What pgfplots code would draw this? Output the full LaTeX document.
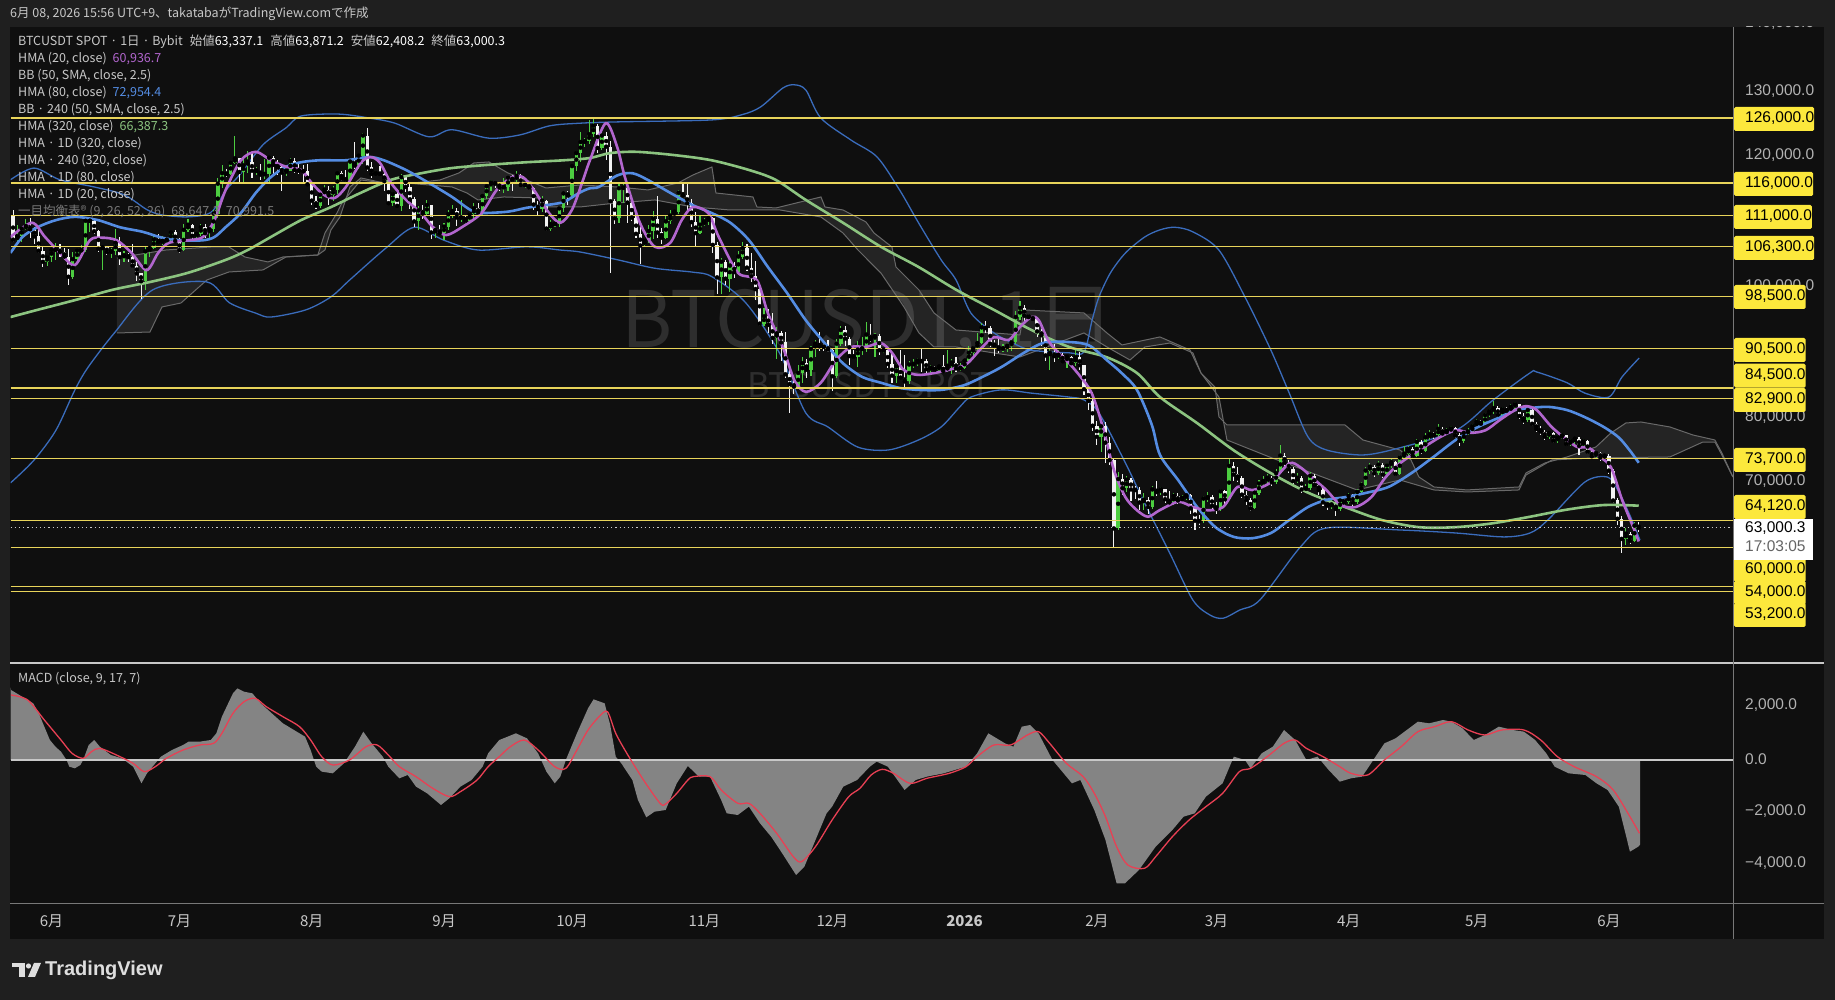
\documentclass[border=0pt]{standalone}
\usepackage{fontspec}
\setmainfont{Liberation Sans}
\newfontfamily\jp{Noto Sans CJK JP}
\usepackage{pgfplots}
\pgfplotsset{compat=1.18}
\usepackage{pgfplotstable}
\newcommand{\fs}[1]{\fontsize{#1}{#1}\selectfont}
\definecolor{outerbg}{RGB}{31,31,31}
\definecolor{panebg}{RGB}{15,15,15}
\definecolor{ylw}{RGB}{232,212,90}
\definecolor{ylwbox}{RGB}{252,232,60}
\definecolor{cgreen}{RGB}{76,205,64}
\definecolor{cwhite}{RGB}{242,242,242}
\definecolor{hmaA}{RGB}{178,102,206}
\definecolor{hmaB}{RGB}{84,140,226}
\definecolor{hmaC}{RGB}{140,196,128}
\definecolor{bbline}{RGB}{58,108,188}
\definecolor{cloudline}{RGB}{105,105,105}
\definecolor{txtgray}{RGB}{200,200,200}
\definecolor{axgray}{RGB}{178,178,178}
\definecolor{macdfill}{RGB}{132,132,132}
\definecolor{sigred}{RGB}{232,64,84}
\definecolor{wm}{RGB}{46,46,46}
\definecolor{sepline}{RGB}{200,200,200}
\definecolor{bordline}{RGB}{120,120,120}
\definecolor{logo}{RGB}{222,222,222}

% daily candles, price in thousand USDT, d = days since 2025-06-01
\pgfplotstableread{
d o h l c
-9 111.0 111.9 106.9 107.3
-8 107.3 109.5 106.7 107.8
-7 107.8 109.3 106.9 109.0
-6 109.0 110.4 108.8 109.4
-5 109.4 110.7 107.6 108.9
-4 108.9 109.3 106.6 107.8
-3 107.8 108.9 105.3 105.6
-2 105.6 106.3 103.1 103.9
-1 103.9 104.9 103.3 104.6
0 104.6 105.9 103.8 105.7
1 105.7 106.8 104.2 105.8
2 105.8 106.7 104.7 105.4
3 105.4 106.0 104.2 104.7
4 104.7 105.9 100.4 101.6
5 101.6 105.4 101.3 104.3
6 104.3 105.9 103.9 105.6
7 105.6 106.5 105.0 105.7
8 105.7 110.5 105.4 110.2
9 110.2 110.6 108.4 110.2
10 110.2 110.4 108.1 108.6
11 108.6 108.8 105.4 105.9
12 105.9 106.2 102.7 106.1
13 106.1 106.2 104.9 105.4
14 105.4 106.0 104.5 105.5
15 105.5 108.9 104.9 106.8
16 106.8 107.7 103.4 104.6
17 104.6 105.5 103.9 104.9
18 104.9 105.3 103.8 104.6
19 104.6 106.6 102.9 103.3
20 103.3 103.9 101.0 102.1
21 102.1 102.2 98.2 100.9
22 100.9 106.1 99.6 105.5
23 105.5 106.3 104.7 106.0
24 106.0 108.0 105.9 107.3
25 107.3 108.2 106.6 106.9
26 106.9 107.8 106.4 107.1
27 107.1 107.6 106.6 107.3
28 107.3 108.5 107.1 108.4
29 108.4 108.8 106.8 107.1
30 107.1 107.5 105.2 105.7
31 105.7 109.7 105.5 108.8
32 108.8 110.5 108.5 109.6
33 109.6 109.7 107.3 107.9
34 107.9 108.4 107.5 108.2
35 108.2 109.7 107.8 109.2
36 109.2 109.7 107.5 108.3
37 108.3 109.2 107.4 108.9
38 108.9 111.9 108.4 111.3
39 111.3 116.8 110.6 115.9
40 115.9 118.8 115.3 117.5
41 117.5 118.2 116.9 117.4
42 117.4 119.4 117.3 119.1
43 119.1 123.2 118.9 119.8
44 119.8 119.9 115.8 117.7
45 117.7 120.0 115.8 118.7
46 118.7 120.9 117.5 119.3
47 119.3 120.8 116.8 117.9
48 117.9 118.5 117.3 117.9
49 117.9 118.9 116.5 117.3
50 117.3 119.7 116.6 117.4
51 117.4 120.2 116.1 119.9
52 119.9 120.1 117.3 118.8
53 118.8 119.5 117.3 118.4
54 118.4 118.6 114.7 117.6
55 117.6 118.3 117.1 117.9
56 117.9 119.8 117.8 119.4
57 119.4 119.8 117.5 118.0
58 118.0 119.2 117.4 117.9
59 117.9 118.8 115.9 117.8
60 117.8 118.9 115.5 115.8
61 115.8 116.0 112.7 113.3
62 113.3 114.0 112.0 112.5
63 112.5 114.7 112.1 114.2
64 114.2 115.7 114.1 115.0
65 115.0 115.5 112.7 114.1
66 114.1 115.6 113.3 115.0
67 115.0 117.6 114.3 117.5
68 117.5 117.9 116.3 116.7
69 116.7 118.0 116.2 116.5
70 116.5 119.4 116.4 119.3
71 119.3 122.3 118.2 118.7
72 118.7 120.3 118.1 120.2
73 120.2 123.7 118.9 123.3
74 123.3 124.4 117.9 118.4
75 118.4 119.3 116.8 117.4
76 117.4 117.9 117.2 117.5
77 117.5 118.6 117.2 117.4
78 117.4 117.6 114.7 116.3
79 116.3 116.8 112.7 112.9
80 112.9 114.6 112.4 114.3
81 114.3 114.8 112.4 112.5
82 112.5 117.4 111.7 116.9
83 116.9 117.0 114.6 115.4
84 115.4 115.8 112.0 113.5
85 113.5 113.8 109.3 110.1
86 110.1 112.4 108.8 111.8
87 111.8 112.7 110.4 111.3
88 111.3 113.4 110.9 112.6
89 112.6 112.7 107.4 108.4
90 108.4 109.0 107.6 108.8
91 108.8 109.5 108.1 108.3
92 108.3 109.9 107.3 109.3
93 109.3 111.8 108.8 111.2
94 111.2 112.6 110.6 111.7
95 111.7 112.2 109.4 110.7
96 110.7 113.4 110.0 110.7
97 110.7 111.0 109.8 110.2
98 110.2 111.5 110.1 111.2
99 111.2 112.9 110.6 112.1
100 112.1 113.0 110.9 111.5
101 111.5 114.3 110.9 114.0
102 114.0 115.6 113.6 115.5
103 115.5 116.5 114.8 116.1
104 116.1 116.3 115.3 115.9
105 115.9 116.1 114.8 115.3
106 115.3 116.8 114.4 115.4
107 115.4 117.0 114.8 116.8
108 116.8 117.3 114.7 116.5
109 116.5 117.9 116.2 117.1
110 117.1 117.4 115.4 115.7
111 115.7 116.1 115.2 115.7
112 115.7 115.9 114.9 115.3
113 115.3 115.4 111.9 112.7
114 112.7 113.3 111.1 112.0
115 112.0 114.0 111.5 113.3
116 113.3 113.4 108.7 109.0
117 109.0 110.3 108.6 109.7
118 109.7 110.0 109.2 109.7
119 109.7 112.4 109.3 112.1
120 112.1 114.5 111.5 114.4
121 114.4 114.8 112.7 114.1
122 114.1 118.7 113.9 118.6
123 118.6 121.0 117.9 120.6
124 120.6 123.9 119.3 122.3
125 122.3 122.9 121.6 122.4
126 122.4 125.7 122.0 123.5
127 123.5 126.2 123.1 124.8
128 124.8 125.1 120.6 121.4
129 121.4 124.2 121.1 123.3
130 123.3 123.8 119.6 121.6
131 121.6 122.5 102.2 113.2
132 113.2 113.5 109.7 110.6
133 110.6 115.8 109.8 115.2
134 115.2 116.0 113.0 115.3
135 115.3 115.4 109.9 113.0
136 113.0 113.6 110.2 110.7
137 110.7 111.2 107.5 108.2
138 108.2 109.3 103.5 106.4
139 106.4 107.5 106.3 107.2
140 107.2 109.5 106.8 108.6
141 108.6 111.7 107.4 110.5
142 110.5 114.0 107.5 108.4
143 108.4 109.1 106.7 107.6
144 107.6 111.0 107.4 110.1
145 110.1 111.9 109.7 111.0
146 111.0 111.9 110.9 111.6
147 111.6 115.0 111.2 114.5
148 114.5 116.1 113.9 114.1
149 114.1 116.0 111.9 112.9
150 112.9 113.6 109.2 110.0
151 110.0 111.5 106.3 108.3
152 108.3 111.0 108.2 109.6
153 109.6 110.6 109.4 110.1
154 110.1 111.2 109.6 110.6
155 110.6 110.8 105.3 106.5
156 106.5 107.0 98.9 101.5
157 101.5 104.5 98.9 103.9
158 103.9 104.2 100.3 101.3
159 101.3 104.0 99.3 103.3
160 103.3 103.9 101.4 102.3
161 102.3 105.5 101.9 104.7
162 104.7 107.0 104.3 106.0
163 106.0 106.7 102.5 103.0
164 103.0 105.3 100.8 101.7
165 101.7 104.0 98.0 99.7
166 99.7 100.0 94.0 94.4
167 94.4 96.8 94.0 95.5
168 95.5 96.6 93.0 94.2
169 94.2 96.0 91.3 92.2
170 92.2 93.8 89.0 92.9
171 92.9 93.2 88.6 91.5
172 91.5 93.1 86.1 86.6
173 86.6 87.5 80.6 85.1
174 85.1 85.5 83.5 84.7
175 84.7 88.0 84.6 86.8
176 86.8 89.2 85.3 88.3
177 88.3 88.9 86.1 87.3
178 87.3 91.0 86.3 90.5
179 90.5 91.9 89.2 91.3
180 91.3 93.1 90.2 90.9
181 90.9 91.2 90.2 90.8
182 90.8 91.8 90.1 90.4
183 90.4 90.5 84.0 86.3
184 86.3 92.0 86.0 91.3
185 91.3 94.1 91.0 93.4
186 93.4 94.0 90.9 92.1
187 92.1 92.3 88.1 89.4
188 89.4 90.3 88.9 89.3
189 89.3 91.7 87.7 90.4
190 90.4 92.3 89.6 90.6
191 90.6 94.6 90.0 92.7
192 92.7 94.4 91.6 92.0
193 92.0 93.0 89.3 92.5
194 92.5 92.8 89.5 90.3
195 90.3 90.7 89.8 90.3
196 90.3 90.4 87.6 88.2
197 88.2 90.0 85.2 86.4
198 86.4 88.2 85.3 87.8
199 87.8 90.4 85.9 86.1
200 86.1 89.5 84.5 85.5
201 85.5 88.6 85.1 88.1
202 88.1 89.0 87.6 88.2
203 88.2 89.1 87.9 88.7
204 88.7 90.5 87.0 88.6
205 88.6 88.9 86.6 87.4
206 87.4 88.0 86.6 87.6
207 87.6 87.9 86.9 87.3
208 87.3 88.1 87.0 87.8
209 87.8 89.5 86.8 87.1
210 87.1 90.3 86.9 87.9
211 87.9 88.9 86.6 88.4
212 88.4 89.2 87.0 87.5
213 87.5 88.4 87.1 87.6
214 87.6 88.9 87.4 88.7
215 88.7 90.9 88.5 89.9
216 89.9 90.9 89.3 90.6
217 90.6 93.0 90.4 91.4
218 91.4 94.5 91.2 93.8
219 93.8 94.8 92.9 93.7
220 93.7 94.0 90.8 91.3
221 91.3 91.9 89.4 91.0
222 91.0 92.0 89.9 90.5
223 90.5 91.2 90.1 90.6
224 90.6 91.4 90.1 91.0
225 91.0 92.5 90.2 91.5
226 91.5 96.3 91.2 95.4
227 95.4 97.8 94.9 96.8
228 96.8 97.2 94.5 95.6
229 95.6 95.9 94.9 95.4
230 95.4 95.6 94.8 95.1
231 95.1 95.2 92.3 93.2
232 93.2 93.6 91.0 92.6
233 92.6 92.7 88.7 89.5
234 89.5 90.5 87.3 89.9
235 89.9 91.2 88.5 89.4
236 89.4 90.3 89.0 89.6
237 89.6 89.9 88.3 88.6
238 88.6 89.5 87.6 89.3
239 89.3 89.4 87.9 88.3
240 88.3 90.4 87.9 89.2
241 89.2 90.0 87.3 88.0
242 88.0 88.1 83.4 84.3
243 84.3 84.6 81.1 82.5
244 82.5 83.9 77.9 78.7
245 78.7 79.4 75.7 77.0
246 77.0 79.3 74.6 78.6
247 78.6 79.3 72.9 76.1
248 76.1 76.9 72.7 73.4
249 73.4 73.6 60.0 62.9
250 62.9 71.6 62.7 70.5
251 70.5 71.2 68.0 69.1
252 69.1 71.0 68.5 70.4
253 70.4 70.6 67.1 68.9
254 68.9 69.5 67.4 68.8
255 68.8 69.3 65.8 66.9
256 66.9 68.4 65.7 67.3
257 67.3 67.8 65.2 66.2
258 66.2 69.4 65.9 68.9
259 68.9 70.2 67.9 68.5
260 68.5 69.3 68.0 68.9
261 68.9 69.0 66.8 67.4
262 67.4 68.7 66.4 66.9
263 66.9 68.4 66.5 67.9
264 67.9 68.3 66.7 67.2
265 67.2 68.1 66.9 67.6
266 67.6 68.6 67.2 68.0
267 68.0 68.2 65.1 66.0
268 66.0 66.3 62.7 64.1
269 64.1 65.0 63.5 64.0
270 64.0 67.9 63.8 67.5
271 67.5 68.5 66.9 67.7
272 67.7 68.0 65.9 66.4
273 66.4 67.0 65.2 65.9
274 65.9 69.0 65.6 68.6
275 68.6 68.8 66.5 67.4
276 67.4 73.8 67.2 72.5
277 72.5 73.1 70.2 71.2
278 71.2 72.3 70.0 70.6
279 70.6 70.9 67.6 68.1
280 68.1 68.6 66.5 67.3
281 67.3 67.6 65.6 66.0
282 66.0 68.8 65.9 68.4
283 68.4 70.4 68.1 69.8
284 69.8 70.9 69.4 70.2
285 70.2 71.3 69.8 70.7
286 70.7 71.0 69.5 70.0
287 70.0 72.1 69.8 71.4
288 71.4 75.8 71.3 74.1
289 74.1 74.5 72.3 73.0
290 73.0 73.4 71.5 72.0
291 72.0 72.3 69.8 70.2
292 70.2 71.4 69.9 70.7
293 70.7 71.0 68.4 68.9
294 68.9 69.8 68.5 69.1
295 69.1 71.6 68.8 71.0
296 71.0 71.3 69.2 69.6
297 69.6 70.0 68.1 68.8
298 68.8 69.1 66.4 66.9
299 66.9 67.5 65.7 66.4
300 66.4 67.2 65.9 66.6
301 66.6 66.9 64.8 65.9
302 65.9 67.6 65.6 67.2
303 67.2 67.5 66.4 66.9
304 66.9 68.3 66.6 67.9
305 67.9 68.2 66.4 66.9
306 66.9 68.9 66.7 68.5
307 68.5 70.1 68.2 69.6
308 69.6 72.3 69.4 71.8
309 71.8 72.9 71.2 72.4
310 72.4 72.7 70.8 71.4
311 71.4 73.2 71.1 72.7
312 72.7 72.9 70.6 71.2
313 71.2 73.0 70.9 72.6
314 72.6 73.6 72.2 73.1
315 73.1 73.3 70.9 71.3
316 71.3 74.2 71.1 73.8
317 73.8 75.6 73.5 74.4
318 74.4 75.5 74.0 75.1
319 75.1 75.4 73.6 74.1
320 74.1 76.7 73.9 76.2
321 76.2 76.5 74.3 74.8
322 74.8 77.5 74.6 76.9
323 76.9 78.1 76.5 77.4
324 77.4 77.8 76.7 77.2
325 77.2 78.9 76.9 78.2
326 78.2 78.5 77.0 77.5
327 77.5 78.3 77.2 77.9
328 77.9 78.7 77.6 78.3
329 78.3 78.5 76.8 77.2
330 77.2 77.5 75.6 76.4
331 76.4 78.0 76.1 77.6
332 77.6 78.3 77.3 77.8
333 77.8 79.0 77.5 78.6
334 78.6 79.8 78.3 79.3
335 79.3 79.6 78.5 79.0
336 79.0 80.7 78.8 80.3
337 80.3 81.3 80.0 80.9
338 80.9 82.5 80.5 81.4
339 81.4 81.7 80.0 80.4
340 80.4 81.6 80.1 81.2
341 81.2 81.5 80.6 81.0
342 81.0 82.0 80.8 81.6
343 81.6 82.4 81.3 82.0
344 82.0 82.1 79.8 80.2
345 80.2 80.6 79.0 79.5
346 79.5 81.4 79.3 81.1
347 81.1 81.2 78.6 79.0
348 79.0 79.3 77.8 78.2
349 78.2 78.6 77.3 77.8
350 77.8 78.0 76.5 77.0
351 77.0 77.9 76.6 77.6
352 77.6 77.8 76.0 76.4
353 76.4 77.3 76.1 76.9
354 76.9 77.6 76.6 77.2
355 77.2 77.3 75.5 75.9
356 75.9 76.6 75.6 76.3
357 76.3 77.0 75.9 76.7
358 76.7 76.9 74.2 75.6
359 75.6 76.7 75.3 76.3
360 76.3 76.5 74.3 74.7
361 74.7 75.1 73.6 74.0
362 74.0 74.8 73.7 74.5
363 74.5 74.7 73.3 73.8
364 73.8 74.4 73.4 74.1
365 74.1 74.3 71.2 71.8
366 71.8 72.0 66.8 67.2
367 67.2 67.6 63.5 64.4
368 64.4 64.8 59.1 61.3
369 61.3 62.9 60.4 62.1
370 62.1 62.4 60.5 61.0
371 61.0 63.9 60.8 63.3371
372 63.3371 63.8712 62.4082 63.0003
}\candles

\pgfplotstableread{
d p
-9.6 107.7
-4.6 109.9
-1.5 107.7
2.0 105.25
5.5 103.4
9.0 107.2
11.7 107.6
15.3 107.2
18.8 105.25
22.3 102.6
25.0 105.25
27.5 106.8
32.0 107.2
35.5 107.7
38.2 110.3
40.8 114.9
44.4 119.5
47.9 120.8
51.4 119.5
55.0 118.5
58.5 118.0
61.0 116.0
63.8 114.2
66.4 113.7
69.0 115.4
72.5 119.1
74.8 120.0
77.0 119.1
79.6 116.0
83.1 113.4
86.6 111.4
89.3 109.3
92.5 108.0
96.4 109.3
100.8 111.4
104.3 114.9
107.9 116.9
110.5 116.9
113.1 114.9
116.6 111.4
119.3 109.9
122.0 111.9
124.6 116.5
126.2 119.5
129.9 125.2
132.6 121.5
134.4 116.9
137.9 109.9
141.4 106.2
145.0 106.8
147.7 110.3
150.3 112.3
153.9 111.4
156.4 107.7
160.9 102.2
165.3 101.1
167.9 96.0
171.4 90.8
174.1 85.7
176.8 83.9
180.3 85.3
183.9 88.8
187.4 90.8
190.9 90.8
194.4 91.4
197.0 89.9
199.7 87.3
203.2 86.5
208.5 87.0
212.0 87.6
214.7 88.3
218.2 90.8
220.9 92.3
224.4 91.9
227.0 93.9
229.7 95.4
231.4 94.9
234.0 91.4
238.5 88.3
241.2 86.2
243.8 83.7
246.4 78.5
249.0 71.9
251.7 67.7
254.4 65.7
257.0 64.7
259.7 65.7
264.1 67.0
267.5 66.2
271.0 65.7
274.6 66.2
278.0 69.3
281.5 68.8
285.8 70.0
290.1 72.9
292.7 72.3
296.2 70.3
298.8 68.8
302.2 66.5
305.7 66.2
309.3 67.7
312.7 70.8
316.0 72.9
320.5 74.9
325.6 77.0
329.2 78.0
332.6 77.6
336.1 78.0
339.5 79.6
343.0 81.1
345.6 81.7
348.1 81.1
351.6 78.5
355.2 76.5
357.7 75.4
360.3 75.3
362.9 73.9
365.5 72.3
368.1 67.3
370.7 63.1
372.0 60.9
}\hmaTwenty

\pgfplotstableread{
d p
-9.6 105.25
-6.8 107.7
-3.3 109.2
1.05 110.3
5.5 110.8
10.9 110.3
16.1 109.2
21.4 108.5
25.9 107.6
30.3 107.2
35.5 107.2
38.2 107.7
40.8 109.2
44.4 111.4
47.9 114.5
51.4 116.9
55.0 118.5
58.5 119.2
62.9 119.5
69.0 119.5
74.4 120.0
77.9 119.5
83.1 118.0
88.5 116.0
93.8 113.9
98.1 111.9
100.8 111.4
107.0 111.6
111.4 112.2
115.9 112.6
120.1 113.1
123.7 114.5
126.2 115.2
128.3 115.4
132.7 117.2
136.2 117.5
139.7 116.5
145.0 114.5
150.3 112.6
154.7 111.4
159.1 109.9
163.5 107.2
167.9 103.1
172.4 99.1
176.8 94.9
181.2 91.4
185.5 88.3
190.0 86.2
194.4 85.3
198.8 84.5
203.2 84.2
208.5 84.2
213.8 84.9
218.2 86.2
222.6 87.7
227.9 89.9
232.3 91.4
236.7 91.6
241.2 91.4
243.8 90.8
247.3 88.8
250.8 86.8
254.4 84.2
257.9 78.8
259.8 74.2
264.1 70.3
268.5 66.2
272.8 63.1
277.1 61.6
281.5 61.4
285.8 62.2
290.1 64.2
294.5 66.2
298.8 67.3
303.1 67.7
308.3 68.4
313.4 69.3
318.7 71.4
323.9 73.9
329.1 76.5
334.3 78.5
339.5 80.0
343.0 81.1
346.5 81.4
350.7 81.6
355.2 81.1
359.4 80.0
363.8 78.5
367.3 76.9
369.9 74.9
372.0 73.0
}\hmaEighty

\pgfplotstableread{
d p
-9.6 95.4
-3.3 96.5
5.5 98.0
14.4 99.6
23.2 100.8
32.0 102.2
40.9 104.2
46.0 105.7
51.4 107.7
58.5 110.3
65.5 112.3
72.5 114.5
79.6 116.5
86.6 117.5
93.8 118.3
102.5 118.8
111.4 119.2
120.1 119.5
126.2 119.85
130.9 120.6
137.0 120.8
145.9 120.3
154.7 119.5
163.5 118.0
169.7 116.5
176.8 113.4
185.5 109.9
194.4 106.2
203.2 103.1
212.0 99.6
220.9 96.5
229.7 93.4
238.5 90.8
247.4 89.2
254.4 86.8
259.8 83.1
268.5 79.1
277.1 74.9
285.8 71.4
294.5 68.4
303.1 66.2
311.8 64.2
320.5 63.1
329.1 63.1
337.8 63.7
346.5 64.7
355.2 65.8
363.8 66.5
372.0 66.4
}\hmaThree

\pgfplotstableread{
d p
-9.6 116.5
-4.1 118.3
2.0 116.5
10.0 115.4
17.0 114.2
22.4 111.9
25.9 111.1
32.0 110.8
37.4 111.5
40.9 114.9
44.4 117.5
49.6 121.9
55.0 124.5
58.5 126.3
67.3 126.6
74.4 126.0
80.5 125.2
88.5 123.1
93.8 124.2
102.5 122.9
109.8 123.4
116.8 124.8
123.9 125.2
132.7 125.4
154.7 125.7
161.8 126.5
166.2 127.7
171.4 130.6
174.1 131.1
176.8 130.3
180.3 126.0
187.4 122.6
193.5 120.0
198.8 114.9
203.2 109.9
208.5 104.2
212.0 101.1
215.5 96.0
220.9 92.95
225.3 91.4
229.7 90.3
238.5 89.9
242.0 90.03
243.9 94.95
245.5 98.5
248.2 102.2
251.7 105.25
256.2 107.7
259.8 108.8
263.3 109.2
267.5 108.5
273.6 105.7
279.7 98.5
285.8 90.3
290.1 83.7
294.5 76.96
298.8 74.97
307.4 74.2
316.0 75.3
329.2 78.0
337.8 82.6
346.5 86.8
348.1 86.95
355.2 85.3
359.4 83.7
365.0 83.1
368.1 86.2
372.1 89.1
}\bbUp

\pgfplotstableread{
d p
-9.6 69.9
-4.1 73.4
1.05 78.0
5.5 84.2
8.6 87.7
14.8 93.0
23.8 99.6
36.4 100.8
41.7 97.6
47.9 96.0
51.4 95.4
59.6 96.5
65.5 98.5
69.9 101.1
78.2 105.9
85.0 109.2
92.0 107.2
100.0 105.7
111.4 106.2
119.2 105.7
123.9 105.4
132.7 104.2
141.4 102.9
150.3 102.3
154.8 101.6
162.7 97.6
170.6 89.9
176.8 80.65
182.0 78.5
189.0 75.4
196.2 74.97
203.2 76.5
208.5 78.5
212.9 81.6
215.5 83.1
222.5 84.2
229.7 83.7
238.5 83.1
242.0 82.65
245.5 80.65
251.7 72.97
256.2 66.8
262.1 59.1
267.5 51.9
271.5 49.6
274.6 49.1
278.5 50.37
283.2 51.9
292.7 60.05
298.8 62.97
316.0 62.67
329.2 62.2
340.4 61.6
346.5 62.2
350.7 64.2
359.4 70.05
364.7 70.8
367.1 68.8
369.9 64.97
372.3 61.1
}\bbLow

\pgfplotstableread{
d p
15.35 104.48
26.83 105.71
37.38 106.17
41.60 106.17
45.35 104.63
50.74 103.87
54.25 104.63
62.43 104.94
64.10 108.33
66.91 111.40
68.08 112.94
72.53 116.47
77.93 116.01
84.95 116.01
91.05 116.47
95.50 117.55
99.02 119.09
102.53 119.24
106.98 117.55
113.08 116.01
115.89 115.24
123.86 115.70
132.53 115.40
139.80 114.94
146.83 116.01
150.34 117.24
154.79 118.47
155.73 114.47
164.40 113.86
165.34 112.32
169.80 112.17
180.34 113.86
181.28 112.32
185.50 111.86
190.89 110.02
192.76 108.33
196.98 106.17
197.92 103.10
203.31 99.56
206.83 96.03
211.98 93.41
220.89 92.95
226.98 92.65
227.92 96.49
241.98 96.03
247.37 92.95
250.89 91.11
259.79 92.34
266.82 90.34
269.40 86.80
272.68 84.64
273.62 80.04
275.49 78.81
303.15 78.81
307.37 76.50
316.04 74.96
318.62 73.43
320.49 70.81
324.01 69.28
331.74 68.82
343.93 69.28
345.57 71.43
350.02 72.97
355.18 73.89
361.97 75.43
365.48 77.58
369.00 79.12
372.51 79.27
379.31 78.50
384.70 77.27
389.85 76.50
391.49 74.50
394.07 70.81
}\cloudTop

\pgfplotstableread{
d p
15.35 92.95
23.08 93.10
25.90 96.95
30.35 97.56
36.44 101.10
41.60 102.33
49.57 102.64
54.96 104.63
62.43 104.94
64.10 105.71
65.50 108.79
67.61 110.78
69.96 115.40
72.53 116.78
77.93 116.01
83.08 116.01
88.47 115.70
93.86 115.40
97.37 114.47
99.95 113.40
106.05 113.86
114.02 113.70
115.89 112.32
123.86 112.32
132.53 112.94
141.44 113.40
150.34 112.32
159.01 111.86
170.73 111.86
180.34 110.78
185.50 108.33
189.01 105.71
194.40 102.17
199.80 96.95
203.31 92.95
206.83 90.80
211.98 90.80
220.89 89.88
226.98 89.26
241.98 92.95
247.37 90.80
252.76 88.80
256.28 90.80
262.13 91.41
267.52 89.88
269.40 86.80
273.62 83.11
275.49 76.50
286.04 73.74
305.96 68.82
316.04 70.35
324.01 68.82
331.74 68.51
343.93 68.82
345.57 71.12
351.66 73.43
361.27 73.74
379.31 73.89
387.04 76.19
389.85 76.19
391.49 74.20
394.07 70.81
}\cloudBot

% cloud outline: top edge forward, bottom edge back
\pgfplotstableread{
d p
15.35 104.48
26.83 105.71
37.38 106.17
41.60 106.17
45.35 104.63
50.74 103.87
54.25 104.63
62.43 104.94
64.10 108.33
66.91 111.40
68.08 112.94
72.53 116.47
77.93 116.01
84.95 116.01
91.05 116.47
95.50 117.55
99.02 119.09
102.53 119.24
106.98 117.55
113.08 116.01
115.89 115.24
123.86 115.70
132.53 115.40
139.80 114.94
146.83 116.01
150.34 117.24
154.79 118.47
155.73 114.47
164.40 113.86
165.34 112.32
169.80 112.17
180.34 113.86
181.28 112.32
185.50 111.86
190.89 110.02
192.76 108.33
196.98 106.17
197.92 103.10
203.31 99.56
206.83 96.03
211.98 93.41
220.89 92.95
226.98 92.65
227.92 96.49
241.98 96.03
247.37 92.95
250.89 91.11
259.79 92.34
266.82 90.34
269.40 86.80
272.68 84.64
273.62 80.04
275.49 78.81
303.15 78.81
307.37 76.50
316.04 74.96
318.62 73.43
320.49 70.81
324.01 69.28
331.74 68.82
343.93 69.28
345.57 71.43
350.02 72.97
355.18 73.89
361.97 75.43
365.48 77.58
369.00 79.12
372.51 79.27
379.31 78.50
384.70 77.27
389.85 76.50
391.49 74.50
394.07 70.81
391.49 74.20
389.85 76.19
387.04 76.19
379.31 73.89
361.27 73.74
351.66 73.43
345.57 71.12
343.93 68.82
331.74 68.51
324.01 68.82
316.04 70.35
305.96 68.82
286.04 73.74
275.49 76.50
273.62 83.11
269.40 86.80
267.52 89.88
262.13 91.41
256.28 90.80
252.76 88.80
247.37 90.80
241.98 92.95
226.98 89.26
220.89 89.88
211.98 90.80
206.83 90.80
203.31 92.95
199.80 96.95
194.40 102.17
189.01 105.71
185.50 108.33
180.34 110.78
170.73 111.86
159.01 111.86
150.34 112.32
141.44 113.40
132.53 112.94
123.86 112.32
115.89 112.32
114.02 113.70
106.05 113.86
99.95 113.40
97.37 114.47
93.86 115.40
88.47 115.70
83.08 116.01
77.93 116.01
72.53 116.78
69.96 115.40
67.61 110.78
65.50 108.79
64.10 105.71
62.43 104.94
54.96 104.63
49.57 102.64
41.60 102.33
36.44 101.10
30.35 97.56
25.90 96.95
23.08 93.10
15.35 92.95
15.35 104.48
}\cloudPoly

\pgfplotstableread{
d v
-9.6 0
-9.6 2750
-9.47 2646
-6.87 2394
-4.27 2142
-2.97 1764
-1.67 1260
-0.37 756
0.93 504
2.23 315
3.53 0
4.18 -252
5.48 -315
6.78 -189
7.43 0
8.73 567
10.03 756
11.33 504
13.93 189
16.53 63
19.13 -252
21.09 -882
22.39 -504
24.34 -126
25.64 126
28.24 378
30.84 567
32.14 693
34.74 693
37.34 756
38.64 1008
39.94 1638
42.53 2520
43.58 2709
45.14 2583
47.09 2520
49.04 2142
51.64 1764
54.24 1386
56.84 1134
59.44 882
60.74 378
62.04 -252
63.34 -441
65.94 -504
68.54 -126
71.14 504
73.09 1071
75.04 630
77.64 126
78.94 -252
81.54 -693
83.49 -567
85.44 -1008
88.04 -1260
91.29 -1701
93.25 -1449
95.85 -1008
98.45 -756
101.05 -252
102.35 252
104.95 756
108.85 1008
111.45 819
114.05 252
116.0 -441
117.95 -882
119.25 -630
120.55 0
123.15 1008
125.75 1953
127.05 2293
129.65 2142
130.95 1323
132.25 126
133.55 -126
136.15 -756
137.45 -1512
139.40 -2167
141.35 -1953
143.95 -1890
146.55 -882
149.15 -227
151.75 -630
154.35 -630
156.95 -1512
158.25 -2016
160.86 -2079
163.46 -1764
166.06 -2394
168.66 -2898
171.26 -3528
174.51 -4347
176.46 -4032
179.06 -3024
181.66 -2016
182.96 -1764
185.56 -1008
188.81 -756
191.80 -252
193.40 -63
196.02 -252
199.94 -1134
202.56 -756
205.17 -630
209.1 -504
214.33 -252
216.94 252
219.56 1008
223.48 630
225.44 504
227.4 1260
229.36 1323
231.33 1008
234.6 0
236.56 -378
239.17 -882
241.14 -756
244.40 -1890
247.02 -3024
249.63 -4662
251.6 -4662
254.87 -4158
258.79 -3276
262.71 -2646
265.33 -2142
267.94 -2016
270.56 -1386
274.48 -882
277.10 126
279.71 0
281.02 -315
283.63 252
286.25 504
288.87 1134
291.48 756
294.10 0
296.71 126
299.33 -378
301.94 -819
304.56 -693
307.17 -630
309.79 0
312.40 630
315.02 819
317.63 1134
320.25 1449
322.87 1386
326.13 1512
328.10 1449
330.71 1197
333.33 756
335.94 945
339.21 1260
342.48 1134
345.10 1071
347.71 756
350.33 252
352.29 -252
355.56 -504
359.48 -567
362.10 -882
364.71 -1134
367.33 -1764
369.94 -3465
371.90 -3276
372.3 -3200
372.3 0
-9.6 0
}\macd

\pgfplotstableread{
d v
-9.47 2457
-5.57 2268
-1.67 1512
2.23 756
4.83 252
7.43 63
9.38 315
11.33 441
15.23 189
19.13 -126
21.73 -441
24.34 -252
26.94 63
30.84 378
34.74 567
37.99 630
39.94 1008
42.53 1764
45.14 2205
47.74 2331
50.34 2016
54.24 1638
58.14 1260
60.74 756
63.34 126
65.94 -189
69.84 0
73.74 504
76.34 567
78.94 189
81.54 -252
85.44 -630
89.35 -1071
93.25 -1386
95.85 -1197
99.75 -756
102.35 -252
104.95 126
107.55 504
110.80 756
114.05 378
117.95 -252
120.55 -315
123.15 378
125.75 1134
128.35 1638
130.30 1827
132.25 1008
134.85 252
138.75 -756
142.65 -1638
143.95 -1663
146.55 -1260
149.15 -756
150.45 -630
154.35 -630
156.95 -1134
160.86 -1638
163.46 -1638
166.06 -2016
169.96 -2772
173.86 -3654
175.81 -3843
179.06 -3276
182.96 -2268
186.86 -1386
189.48 -1071
192.10 -567
194.71 -353
197.33 -504
201.25 -882
205.17 -693
210.40 -504
214.33 -252
216.94 126
220.86 567
224.79 567
228.71 945
231.33 1071
233.94 630
237.86 -126
241.79 -630
244.40 -1260
247.02 -2142
249.63 -3276
252.25 -3969
256.17 -4095
258.79 -3654
262.71 -2898
266.64 -2268
270.56 -1764
274.48 -1260
278.40 -441
281.02 -315
284.94 126
288.87 630
291.48 756
294.10 441
298.02 126
301.94 -252
304.56 -504
308.48 -567
312.40 0
316.33 504
320.25 1071
324.17 1260
328.10 1449
332.02 1134
335.94 945
339.86 1134
345.10 1134
349.02 756
352.94 126
356.87 -252
362.10 -630
366.02 -1134
369.94 -2142
372.17 -2772
}\signal

\pgfplotsset{invis/.style={axis line style={draw=none}, ticks=none, clip=true,
  xmin=-9.6, xmax=394.1, width=1722.5pt, scale only axis, anchor=south west}}

\begin{document}
\begin{tikzpicture}
\begin{scope}[x=1pt,y=1pt]
\fill[outerbg] (0,0) rectangle (1835,1000);
\fill[panebg] (10,61) rectangle (1824,973);
% watermark
\node[anchor=base, text=wm, font=\jp\fs{78}] at (868,652) {BTCUSDT, 1日};
\node[anchor=base, text=wm, font=\jp\fs{34}] at (869,602) {BTCUSDT SPOT};
\end{scope}

% ---------------- main price pane ----------------
\begin{axis}[invis, at={(10.5pt,337pt)}, height=636pt, ymin=42.22, ymax=139.99]
% Ichimoku cloud
\addplot[fill=white, fill opacity=0.09, draw=none] table[x=d,y=p] {\cloudPoly};
\addplot[cloudline, line width=1pt] table[x=d,y=p] {\cloudTop};
\addplot[cloudline, line width=1pt] table[x=d,y=p] {\cloudBot};
% Bollinger bands
\addplot[bbline, line width=1.3pt, smooth] table[x=d,y=p] {\bbUp};
\addplot[bbline, line width=1.3pt, smooth] table[x=d,y=p] {\bbLow};
% candles: wicks
\addplot[only marks, mark=none, error bars/.cd, y dir=both, y explicit, error mark=none,
  error bar style={line width=1.1pt, draw=cgreen}]
  table[x=d, y expr={\thisrow{c}<\thisrow{o} ? nan : \thisrow{c}},
        y error plus expr=\thisrow{h}-\thisrow{c}, y error minus expr=\thisrow{c}-\thisrow{l}] {\candles};
\addplot[only marks, mark=none, error bars/.cd, y dir=both, y explicit, error mark=none,
  error bar style={line width=1.1pt, draw=cwhite}]
  table[x=d, y expr={\thisrow{c}<\thisrow{o} ? \thisrow{c} : nan},
        y error plus expr=\thisrow{h}-\thisrow{c}, y error minus expr=\thisrow{c}-\thisrow{l}] {\candles};
% candles: bodies
\addplot[only marks, mark=none, error bars/.cd, y dir=both, y explicit, error mark=none,
  error bar style={line width=3.4pt, draw=cgreen}]
  table[x=d, y expr={\thisrow{c}<\thisrow{o} ? nan : (\thisrow{o}+\thisrow{c})/2},
        y error expr={max((\thisrow{c}-\thisrow{o})/2,0.08)}] {\candles};
\addplot[only marks, mark=none, error bars/.cd, y dir=both, y explicit, error mark=none,
  error bar style={line width=3.4pt, draw=cwhite}]
  table[x=d, y expr={\thisrow{c}<\thisrow{o} ? (\thisrow{o}+\thisrow{c})/2 : nan},
        y error expr={max((\thisrow{o}-\thisrow{c})/2,0.08)}] {\candles};
% HMAs
\addplot[hmaC, line width=2.6pt, smooth] table[x=d,y=p] {\hmaThree};
\addplot[hmaB, line width=2.6pt, smooth] table[x=d,y=p] {\hmaEighty};
\addplot[hmaA, line width=2.6pt, smooth] table[x=d,y=p] {\hmaTwenty};
% horizontal levels
\pgfplotsinvokeforeach{126,116,111,106.3,98.5,90.5,84.5,82.9,73.7,64.12,60,54,53.2}{
  \addplot[ylw, line width=1.1pt] coordinates {(-9.6,#1) (394.1,#1)};
}
\addplot[txtgray, line width=1pt, dash pattern=on 1.2pt off 3pt] coordinates {(-9.6,63.0003) (394.1,63.0003)};
\end{axis}

% ---------------- MACD pane ----------------
\begin{axis}[invis, at={(10.5pt,96pt)}, height=241pt, ymin=-5444, ymax=3667]
\addplot[fill=macdfill, draw=none] table[x=d,y=v] {\macd};
\addplot[color=sepline, line width=1.2pt] coordinates {(-9.6,0) (394.1,0)};
\addplot[sigred, line width=1.3pt, smooth] table[x=d,y=v] {\signal};
\end{axis}

\begin{scope}[x=1pt,y=1pt]
% separators
\draw[sepline, line width=1.4pt] (10,337) -- (1824,337);
\draw[bordline, line width=1pt] (10,96) -- (1824,96);
\draw[bordline, line width=1pt] (1733,61) -- (1733,973);

% price axis labels
\begin{scope}
\clip (1734,61) rectangle (1824,973);
\tikzset{gl/.style={anchor=west, text=axgray, font=\fs{15.5}, inner sep=0pt, text height=0.72em, text depth=0pt}}
\node[gl] at (1745,976) {140,000.0};
\node[gl] at (1745,908) {130,000.0};
\node[gl] at (1745,844) {120,000.0};
\node[gl] at (1745,713) {100,000.0};
\node[gl] at (1745,582.3) {80,000.0};
\node[gl] at (1745,517.7) {70,000.0};
\tikzset{yl/.style={anchor=west, fill=ylwbox, rounded corners=1.5pt, minimum height=24pt, inner sep=0pt, text=black, font=\fs{15.5}, text height=0.72em, text depth=0pt}}
\node[yl] at (1734,881) {\hspace{11pt}126,000.0\hspace{6pt}};
\node[yl] at (1734,816) {\hspace{11pt}116,000.0\hspace{6pt}};
\node[yl] at (1734,783) {\hspace{11pt}111,000.0\hspace{6pt}};
\node[yl] at (1734,752) {\hspace{11pt}106,300.0\hspace{6pt}};
\node[yl] at (1734,703) {\hspace{11pt}98,500.0\hspace{6pt}};
\node[yl] at (1734,650) {\hspace{11pt}90,500.0\hspace{6pt}};
\node[yl] at (1734,624.3) {\hspace{11pt}84,500.0\hspace{6pt}};
\node[yl] at (1734,600) {\hspace{11pt}82,900.0\hspace{6pt}};
\node[yl] at (1734,540) {\hspace{11pt}73,700.0\hspace{6pt}};
\node[yl] at (1734,493) {\hspace{11pt}64,120.0\hspace{6pt}};
\node[yl] at (1734,430) {\hspace{11pt}60,000.0\hspace{6pt}};
\node[yl] at (1734,407.3) {\hspace{11pt}54,000.0\hspace{6pt}};
\node[yl] at (1734,385) {\hspace{11pt}53,200.0\hspace{6pt}};
\fill[white] (1734,440) rectangle (1813,481);
\node[anchor=west, text=black, font=\fs{15.5}, inner sep=0pt, text height=0.72em, text depth=0pt] at (1745,471) {63,000.3};
\node[anchor=west, text={rgb,255:red,100;green,100;blue,100}, font=\fs{15.5}, inner sep=0pt, text height=0.72em, text depth=0pt] at (1745,452) {17:03:05};
% MACD scale
\node[gl] at (1745,294.3) {2,000.0};
\node[gl] at (1745,239.3) {0.0};
\node[gl] at (1745,188.3) {−2,000.0};
\node[gl] at (1745,135.7) {−4,000.0};
\end{scope}

% time axis labels
\tikzset{tl/.style={anchor=center, text=txtgray, font=\jp\fs{15}, inner sep=0pt}}
\node[tl] at (51.5,79) {6月};
\node[tl] at (179.5,79) {7月};
\node[tl] at (311.8,79) {8月};
\node[tl] at (444.1,79) {9月};
\node[tl] at (572.1,79) {10月};
\node[tl] at (704.4,79) {11月};
\node[tl] at (832.4,79) {12月};
\node[tl, font=\jp\bfseries\fs{15}] at (964.6,79) {2026};
\node[tl] at (1096.9,79) {2月};
\node[tl] at (1216.4,79) {3月};
\node[tl] at (1348.7,79) {4月};
\node[tl] at (1476.7,79) {5月};
\node[tl] at (1609.0,79) {6月};

% header
\node[anchor=west, text=txtgray, font=\jp\fs{12.5}, inner sep=0pt] at (10,986) {6月 08, 2026 15:56 UTC+9、takatabaがTradingView.comで作成};

% legend
\tikzset{lg/.style={anchor=west, text=txtgray, font=\jp\fs{12.5}, inner sep=0pt}}
\node[lg] at (18,958.3) {BTCUSDT SPOT · 1日 · Bybit\hspace{7pt}始値\textcolor{white}{63,337.1}\hspace{7pt}高値\textcolor{white}{63,871.2}\hspace{7pt}安値\textcolor{white}{62,408.2}\hspace{7pt}終値\textcolor{white}{63,000.3}};
\node[lg] at (18,941) {HMA (20, close)\hspace{6pt}\textcolor{hmaA}{60,936.7}};
\node[lg] at (18,924) {BB (50, SMA, close, 2.5)};
\node[lg] at (18,907) {HMA (80, close)\hspace{6pt}\textcolor{hmaB}{72,954.4}};
\node[lg] at (18,890) {BB · 240 (50, SMA, close, 2.5)};
\node[lg] at (18,873) {HMA (320, close)\hspace{6pt}\textcolor{hmaC}{66,387.3}};
\node[lg] at (18,856) {HMA · 1D (320, close)};
\node[lg] at (18,839) {HMA · 240 (320, close)};
\node[lg] at (18,822) {HMA · 1D (80, close)};
\node[lg] at (18,805) {HMA · 1D (20, close)};
\node[lg, text={rgb,255:red,120;green,120;blue,120}] at (18,789) {一目均衡表® (9, 26, 52, 26)\hspace{6pt}68,647.3\hspace{6pt}70,991.5};
\node[lg] at (18,321) {MACD (close, 9, 17, 7)};

% TradingView logo
\fill[logo] (12,37) rectangle (25,32.5);
\fill[logo] (18.5,37) rectangle (25,23);
\fill[logo] (28.5,34) circle (2.6);
\fill[logo] (34,37) -- (41,37) -- (35,23) -- (28,23) -- cycle;
\node[anchor=west, text=logo, font=\bfseries\fs{20}, inner sep=0pt] at (45,30) {TradingView};
\end{scope}
\end{tikzpicture}
\end{document}
